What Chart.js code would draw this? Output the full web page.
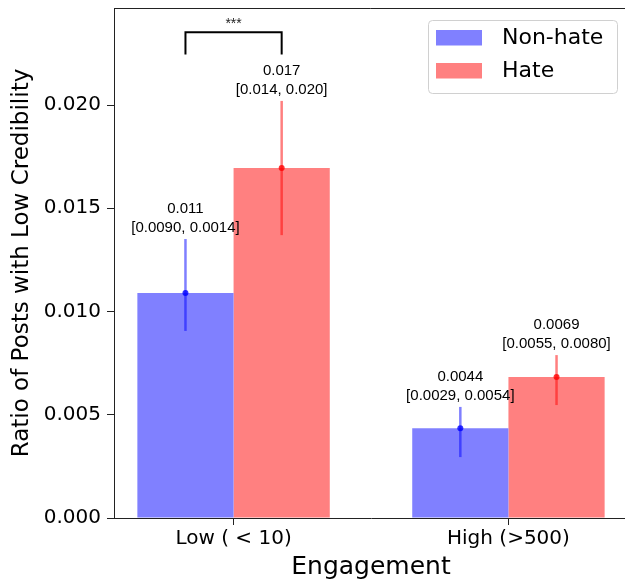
<!DOCTYPE html>
<html>
<head>
<meta charset="utf-8">
<script src="https://cdn.jsdelivr.net/npm/chart.js@4.4.1/dist/chart.umd.min.js"></script>
<style>
html, body { margin: 0; padding: 0; background: #fff; overflow: hidden; }
</style>
</head>
<body>
<canvas id="credChart" width="629" height="582"></canvas>
<script>
const categories = ["Low ( < 10)", "High (>500)"];
const nonHate = [0.0109, 0.00435];
const hate = [0.01695, 0.00683];
const nonHateLow = [0.00906, 0.00295];
const nonHateHigh = [0.01351, 0.00538];
const hateLow = [0.0137, 0.00547];
const hateHigh = [0.0202, 0.00789];
const nonHateText = [["0.011", "[0.0090, 0.0014]"], ["0.0044", "[0.0029, 0.0054]"]];
const hateText = [["0.017", "[0.014, 0.020]"], ["0.0069", "[0.0055, 0.0080]"]];
const yTicks = [0, 0.005, 0.010, 0.015, 0.020];

const SANS = "'DejaVu Sans', sans-serif";
const HELV = "'Liberation Sans', Arial, sans-serif";
const AXIS = "#222";

Chart.defaults.color = "#000";
Chart.defaults.font.family = SANS;

const annotate = {
    id: "annotate",
    afterDatasetsDraw(chart) {
        const c = chart.ctx, y = chart.scales.y;
        const sets = [
            { lo: nonHateLow, hi: nonHateHigh, mean: nonHate, text: nonHateText, line: "rgba(0,0,255,0.5)", dot: "rgba(0,0,255,0.8)" },
            { lo: hateLow, hi: hateHigh, mean: hate, text: hateText, line: "rgba(255,0,0,0.5)", dot: "rgba(255,0,0,0.8)" }
        ];
        sets.forEach((s, i) => {
            chart.getDatasetMeta(i).data.forEach((bar, j) => {
                const top = y.getPixelForValue(s.hi[j]);
                const bot = y.getPixelForValue(s.lo[j]);
                c.save();
                c.strokeStyle = s.line;
                c.lineWidth = 2.5;
                c.beginPath();
                c.moveTo(bar.x, bot);
                c.lineTo(bar.x, top);
                c.stroke();
                c.fillStyle = s.dot;
                c.beginPath();
                c.arc(bar.x, y.getPixelForValue(s.mean[j]), 3, 0, Math.PI * 2);
                c.fill();
                c.fillStyle = "#000";
                c.font = "15px " + HELV;
                c.textAlign = "center";
                c.textBaseline = "middle";
                c.fillText(s.text[j][0], bar.x, top - 30);
                c.fillText(s.text[j][1], bar.x, top - 11);
                c.restore();
            });
        });

        // significance bracket between the two low-engagement bars
        const x1 = chart.getDatasetMeta(0).data[0].x;
        const x2 = chart.getDatasetMeta(1).data[0].x;
        const bTop = y.getPixelForValue(0.02353);
        const bLeg = y.getPixelForValue(0.02245);
        c.save();
        c.strokeStyle = "#000";
        c.lineWidth = 2;
        c.beginPath();
        c.moveTo(x1, bLeg);
        c.lineTo(x1, bTop);
        c.lineTo(x2, bTop);
        c.lineTo(x2, bLeg);
        c.stroke();
        c.fillStyle = "#222";
        c.font = "14px " + HELV;
        c.textAlign = "center";
        c.textBaseline = "middle";
        c.fillText("***", (x1 + x2) / 2, bTop - 8);
        c.restore();
    },
    afterDraw(chart) {
        const c = chart.ctx, a = chart.chartArea;
        c.save();
        // top and right spines
        c.strokeStyle = AXIS;
        c.lineWidth = 1;
        c.beginPath();
        c.moveTo(a.left, a.top + 0.5);
        c.lineTo(a.right - 0.5, a.top + 0.5);
        c.lineTo(a.right - 0.5, a.bottom);
        c.stroke();

        // legend
        const bx = a.right - 200, by = a.top + 12;
        c.fillStyle = "rgba(255,255,255,0.8)";
        c.strokeStyle = "#d0d0d0";
        c.beginPath();
        c.roundRect(bx + 0.5, by + 0.5, 189, 73, 4);
        c.fill();
        c.stroke();
        const entries = [["Non-hate", "#8080ff"], ["Hate", "#ff8080"]];
        c.font = "22px " + SANS;
        c.textBaseline = "middle";
        c.textAlign = "left";
        entries.forEach(([label, color], k) => {
            const ry = by + 10 + k * 33;
            c.fillStyle = color;
            c.fillRect(bx + 8, ry, 46, 15.5);
            c.fillStyle = "#000";
            c.fillText(label, bx + 74, ry + 8);
        });
        c.restore();
    }
};

const ctx = document.getElementById("credChart").getContext("2d");

const credChart = new Chart(ctx, {
    type: "bar",
    data: {
        datasets: [
            {
                label: "Non-hate",
                data: nonHate.map((v, i) => ({ x: i, y: v })),
                backgroundColor: "#8080ff",
                borderWidth: 0,
                categoryPercentage: 0.7,
                barPercentage: 1.0
            },
            {
                label: "Hate",
                data: hate.map((v, i) => ({ x: i, y: v })),
                backgroundColor: "#ff8080",
                borderWidth: 0,
                categoryPercentage: 0.7,
                barPercentage: 1.0
            }
        ]
    },
    options: {
        responsive: false,
        animation: false,
        layout: { padding: { top: 8, right: 1, left: 0, bottom: 0 } },
        plugins: {
            legend: { display: false },
            tooltip: { enabled: false }
        },
        scales: {
            x: {
                type: "linear",
                min: -0.435,
                max: 1.435,
                offset: false,
                grid: { offset: false, drawOnChartArea: false, drawTicks: true, tickLength: 7, tickColor: AXIS },
                border: { color: AXIS, width: 1 },
                afterBuildTicks: (s) => { s.ticks = categories.map((_, i) => ({ value: i })); },
                ticks: {
                    callback: (v) => categories[v],
                    font: { size: 20 },
                    color: "#000",
                    padding: 2,
                    maxRotation: 0,
                    autoSkip: false
                },
                title: {
                    display: true,
                    text: "Engagement",
                    font: { size: 25 },
                    color: "#000",
                    padding: { top: 0, bottom: 0 }
                },
                afterFit: (s) => {
                    s.height = 64;
                    s.paddingLeft = 0;
                    s.paddingRight = 0;
                }
            },
            y: {
                min: 0,
                max: 0.0247,
                grid: { drawOnChartArea: false, drawTicks: true, tickLength: 7, tickColor: AXIS },
                border: { color: AXIS, width: 1 },
                afterBuildTicks: (s) => { s.ticks = yTicks.map((v) => ({ value: v })); },
                ticks: {
                    callback: (v) => v.toFixed(3),
                    font: { size: 20 },
                    color: "#000",
                    padding: 6
                },
                title: {
                    display: true,
                    text: "Ratio of Posts with Low Credibility",
                    font: { size: 23 },
                    color: "#000",
                    padding: { top: 8, bottom: 0 }
                },
                afterFit: (s) => {
                    s.width = 114;
                    s.paddingTop = 0;
                    s.paddingBottom = 0;
                }
            }
        }
    },
    plugins: [annotate]
});
</script>
</body>
</html>
